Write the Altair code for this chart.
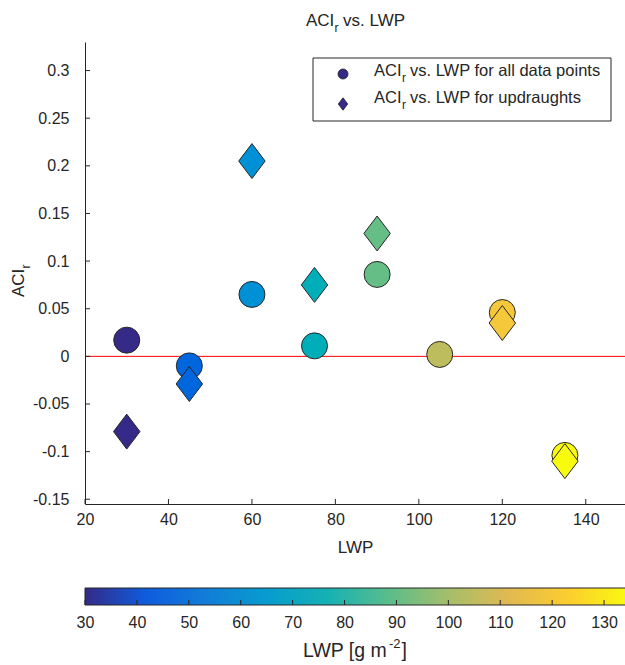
import altair as alt
import pandas as pd

# ---------------- data ----------------
lwp_all = [30, 45, 60, 75, 90, 105, 120, 135]
aci_all = [0.017, -0.010, 0.065, 0.011, 0.086, 0.002, 0.046, -0.104]
lwp_up = [30, 45, 60, 75, 90, 120, 135]
aci_up = [-0.079, -0.029, 0.205, 0.075, 0.129, 0.035, -0.110]

x_ticks = [20, 40, 60, 80, 100, 120, 140]
y_ticks = [-0.15, -0.1, -0.05, 0, 0.05, 0.1, 0.15, 0.2, 0.25, 0.3]
cbar_ticks = [30, 40, 50, 60, 70, 80, 90, 100, 110, 120, 130]
cbar_range = [30, 135]
x_domain = [20, 149.4]
y_domain = [-0.155, 0.33]
zero_line = [0]

parula = ["#352a87", "#0f5cdd", "#127dd8", "#079ccf", "#15b1b4",
          "#59bd8c", "#a5be6b", "#e1b952", "#fcce2e", "#f9fb0e"]

# ---------------- style ----------------
FONT = "Liberation Sans"
INK = "#262626"
W, H = 540, 462
DIAMOND = "M0,-1.32L1,0L0,1.32L-1,0Z"

df_all = pd.DataFrame({"lwp": lwp_all, "aci": aci_all})
df_up = pd.DataFrame({"lwp": lwp_up, "aci": aci_up})
one = pd.DataFrame({"k": [0]})

xscale = alt.Scale(domain=x_domain, zero=False, nice=False)
yscale = alt.Scale(domain=y_domain, zero=False, nice=False)
cscale = alt.Scale(domain=cbar_range, range=parula)
cbscale = alt.Scale(domain=cbar_range, range=[0, 545], zero=False, nice=False)

xaxis = alt.Axis(orient="bottom", values=x_ticks, domain=True, domainColor=INK,
                 domainWidth=1, ticks=False, labelPadding=7,
                 labelFont=FONT, labelFontSize=16, labelColor=INK,
                 labelFlush=False, labelOverlap=False, grid=False,
                 title="LWP", titleFont=FONT, titleFontSize=17,
                 titleColor=INK, titleFontWeight="normal", titlePadding=12)
yaxis = alt.Axis(orient="left", values=y_ticks, domain=True, domainColor=INK,
                 domainWidth=1, ticks=False, labelPadding=16,
                 labelFont=FONT, labelFontSize=16, labelColor=INK,
                 labelFlush=False, labelOverlap=False, grid=False,
                 labelExpr="datum.value < 0 ? '-' + (-datum.value) : '' + datum.value",
                 title=" ")
cbaxis = alt.Axis(orient="bottom", offset=101, values=cbar_ticks, domain=False,
                  ticks=False, labelPadding=9, labelFont=FONT,
                  labelFontSize=16, labelColor=INK, labelFlush=False,
                  labelOverlap=False, grid=False, title=" ")


def txt(s, x, y, size=16, angle=0):
    return alt.Chart(one).mark_text(
        text=s, font=FONT, fontSize=size, color=INK, align="left",
        baseline="alphabetic", angle=angle
    ).encode(x=alt.value(x), y=alt.value(y))


zero = alt.Chart(pd.DataFrame({"y": zero_line})).mark_rule(
    color="red", strokeWidth=1
).encode(y=alt.Y("y:Q", scale=yscale, axis=None))

circles = alt.Chart(df_all).mark_point(
    shape="circle", filled=True, size=676, stroke=INK, strokeWidth=1, opacity=1
).encode(
    x=alt.X("lwp:Q", scale=xscale, axis=xaxis),
    y=alt.Y("aci:Q", scale=yscale, axis=yaxis),
    color=alt.Color("lwp:Q", scale=cscale, legend=None),
)

diamonds = alt.Chart(df_up).mark_point(
    shape=DIAMOND, filled=True, size=700, stroke=INK, strokeWidth=1, opacity=1
).encode(
    x=alt.X("lwp:Q", scale=xscale, axis=None),
    y=alt.Y("aci:Q", scale=yscale, axis=None),
    color=alt.Color("lwp:Q", scale=cscale, legend=None),
)

xt = alt.Chart(pd.DataFrame({"v": x_ticks})).mark_rule(color=INK, strokeWidth=1).encode(
    x=alt.X("v:Q", scale=xscale, axis=None), y=alt.value(H), y2=alt.value(H - 5))
yt = alt.Chart(pd.DataFrame({"v": y_ticks})).mark_rule(color=INK, strokeWidth=1).encode(
    y=alt.Y("v:Q", scale=yscale, axis=None), x=alt.value(0), x2=alt.value(5))

# legend box
lbox = alt.Chart(one).mark_rect(fill="white", stroke=INK, strokeWidth=1).encode(
    x=alt.value(228), x2=alt.value(526), y=alt.value(16), y2=alt.value(79))
lm1 = alt.Chart(one).mark_point(shape="circle", filled=True, size=100, fill=parula[0],
                                stroke=INK, strokeWidth=0.8, opacity=1).encode(
    x=alt.value(258), y=alt.value(32))
lm2 = alt.Chart(one).mark_point(shape=DIAMOND, filled=True, size=90, fill=parula[0],
                                stroke=INK, strokeWidth=0.8, opacity=1).encode(
    x=alt.value(258), y=alt.value(62))

texts = [
    # title
    txt("ACI", 221, -16, 17), txt("r", 249.5, -10, 12), txt("vs. LWP", 258, -16, 17),
    # legend entries
    txt("ACI", 289, 34, 16.5), txt("r", 317, 40, 12), txt("vs. LWP for all data points", 325, 34, 16.5),
    txt("ACI", 289, 61, 16.5), txt("r", 317, 67, 12), txt("vs. LWP for updraughts", 325, 61, 16.5),
    # y axis title
    txt("ACI", -61, 255, 17, 270), txt("r", -55, 226.5, 12, 270),
    # colorbar label
    txt("LWP [g m", 218, 615, 19.5), txt("-2", 304, 606, 13), txt("]", 316.5, 615, 19.5),
]

cbar_rect = alt.Chart(pd.DataFrame({"lo": [cbar_range[0]], "hi": [cbar_range[1]]})).mark_rect(
    fill=alt.LinearGradient(
        gradient="linear",
        stops=[alt.GradientStop(offset=i / (len(parula) - 1), color=c) for i, c in enumerate(parula)],
        x1=0, x2=1, y1=0, y2=0),
    stroke=INK, strokeWidth=1
).encode(
    x=alt.X("lo:Q", scale=cbscale, axis=cbaxis), x2="hi:Q",
    y=alt.value(546), y2=alt.value(563))
cbar_t = alt.Chart(pd.DataFrame({"v": cbar_ticks})).mark_rule(color=INK, strokeWidth=1).encode(
    x=alt.X("v:Q", scale=cbscale, axis=None), y=alt.value(563), y2=alt.value(558))

chart = alt.layer(
    zero, circles, diamonds, xt, yt, cbar_rect, cbar_t, lbox, lm1, lm2, *texts
).resolve_scale(x="independent", y="independent").properties(
    width=W, height=H,
    autosize=alt.AutoSizeParams(type="none"),
    padding={"left": 85, "top": 42, "right": 0, "bottom": 161},
    background="white",
).configure_view(strokeWidth=0)

chart.save("out.html", embed_options={"renderer": "svg", "actions": False})
